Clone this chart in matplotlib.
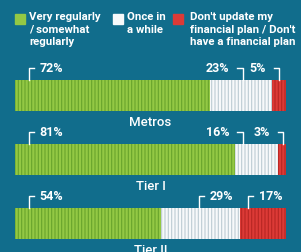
import matplotlib
matplotlib.use('Agg')
import matplotlib.pyplot as plt
from matplotlib.patches import Rectangle

plt.rcParams['font.family'] = ['DejaVu Sans Condensed', 'Liberation Sans Narrow', 'Roboto', 'DejaVu Sans']
plt.rcParams['font.weight'] = 'bold'
plt.rcParams['font.stretch'] = 'condensed'
plt.rcParams['hatch.linewidth'] = 0.8

# data
groups = ['Metros', 'Tier I', 'Tier II']
regular = [72, 81, 54]
once = [23, 16, 29]
never = [5, 3, 17]
legend_labels = ['Very regularly\n/ somewhat\nregularly',
                 'Once in\na while',
                 "Don't update my\nfinancial plan / Don't\nhave a financial plan"]

# label layout: bracket x (in %) and side for each value label
bracket_x = [[5, 84, 97.5], [5, 84, 99], [5, 68, 86]]
bracket_side = [['L', 'R', 'R'], ['L', 'R', 'R'], ['L', 'L', 'L']]

bg = '#116d8c'
fills = ['#93c844', '#f7f9fa', '#dc3a36']
stripes = ['#68a32c', '#bccbd3', '#b82623']

W, H = 301, 252
fig = plt.figure(figsize=(W / 100, H / 100), dpi=100, facecolor=bg)
ax = fig.add_axes([15 / W, 0, 271 / W, 1])
ax.set_facecolor(bg)
ax.set_xlim(0, 100)
# y: 64 px per group, first bar centred at 95.5 px
ax.set_ylim((H - 95.5) / 64, -95.5 / 64)
ax.axis('off')

bh = 0.48
series = [regular, once, never]
for i in range(len(groups)):
    left = 0
    for k, vals in enumerate(series):
        ax.barh(i, vals[i], left=left, height=bh, color=fills[k],
                edgecolor=stripes[k], linewidth=0, hatch='|||||')
        left += vals[i]

    # value labels with little brackets
    top = i - bh / 2
    ytick = top - 0.19
    for k, vals in enumerate(series):
        bx = bracket_x[i][k]
        if bracket_side[i][k] == 'L':
            ax.plot([bx, bx, bx + 1.9], [top, ytick, ytick], color='white', lw=1)
            ax.text(bx + 4.0, top - 0.175, f'{vals[i]}%', color='white',
                    fontsize=9, ha='left', va='center')
        else:
            ax.plot([bx, bx, bx - 1.9], [top, ytick, ytick], color='white', lw=1)
            ax.text(bx - 5.0, top - 0.175, f'{vals[i]}%', color='white',
                    fontsize=9, ha='right', va='center')

    ax.text(50, i + bh / 2 + 0.18, groups[i], color='white', fontsize=9.5,
            fontweight='medium', ha='center', va='center')

# legend
sq_x = [15, 113, 173]
tx_x = [29, 127, 190]
for k in range(3):
    fig.add_artist(Rectangle((sq_x[k] / W, 1 - 24 / H), 10 / W, 10 / H,
                             transform=fig.transFigure, color=fills[k]))
    fig.text(tx_x[k] / W, 1 - 12.5 / H, legend_labels[k], color='white',
             fontsize=8.2, ha='left', va='top', linespacing=1.3)

fig.savefig('out.png', dpi=100, facecolor=bg)
